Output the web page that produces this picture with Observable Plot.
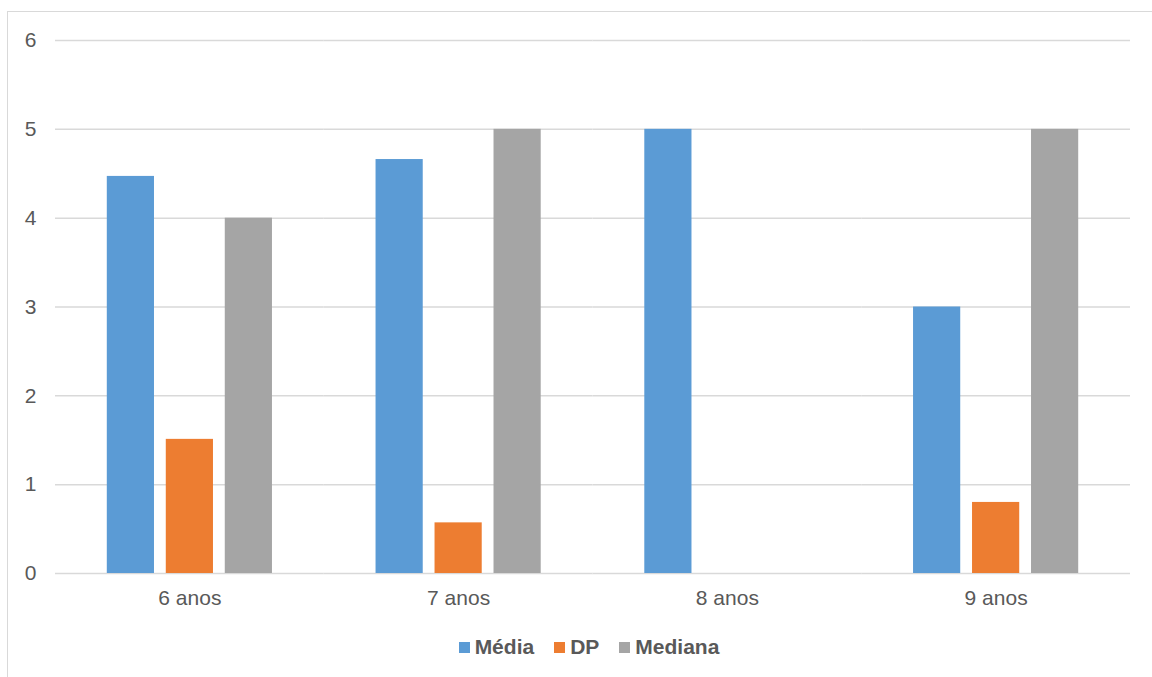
<!DOCTYPE html>
<html>
<head>
<meta charset="utf-8">
<script src="https://cdn.jsdelivr.net/npm/d3@7"></script>
<script src="https://cdn.jsdelivr.net/npm/@observablehq/plot@0.6"></script>
<style>
  html, body { margin: 0; padding: 0; background: #fff; width: 1152px; height: 677px; overflow: hidden; }
  body { position: relative; font-family: "Liberation Sans", Arial, sans-serif; }
  #frame { position: absolute; left: 7px; top: 11px; width: 1200px; height: 700px; border: 1.5px solid #d9d9d9; box-sizing: border-box; }
  #chart { position: absolute; left: 0; top: 0; }
  #legend { position: absolute; left: 2px; top: 635px; width: 1174px; display: flex; justify-content: center; gap: 20px;
            font-weight: bold; font-size: 21px; color: #595959; }
  #legend span.item { display: flex; align-items: center; }
  #legend span.sw { display: inline-block; width: 11px; height: 11px; margin-right: 5px; }
</style>
</head>
<body>
<div id="frame"></div>
<div id="chart"></div>
<div id="legend"></div>
<script>
const categories = ["6 anos", "7 anos", "8 anos", "9 anos"];
const series = ["Média", "DP", "Mediana"];
const media = [4.47, 4.66, 5, 3];
const dp = [1.51, 0.57, 0, 0.80];
const mediana = [4, 5, null, 5];
const colors = ["#5B9BD5", "#ED7D31", "#A5A5A5"];
const yTicks = [0, 1, 2, 3, 4, 5, 6];

const values = [media, dp, mediana];
const data = [];
categories.forEach((c, i) => {
  series.forEach((s, j) => {
    const v = values[j][i];
    if (v != null) data.push({category: c, series: s, value: v});
  });
});

const chart = Plot.plot({
  width: 1152,
  height: 620,
  marginLeft: 55,
  marginRight: 22,
  marginTop: 40,
  marginBottom: 47,
  style: {fontFamily: "'Liberation Sans', Arial, sans-serif", fontSize: "21px", color: "#595959", background: "transparent"},
  fx: {domain: categories, paddingInner: 0, paddingOuter: 0, round: false, label: null, axis: "bottom", tickSize: 0, tickPadding: 17},
  x: {domain: series, paddingInner: 0.2, paddingOuter: 0.878, round: false, axis: null},
  y: {domain: [0, 6], ticks: yTicks, label: null, axis: null},
  color: {domain: series, range: colors},
  marks: [
    Plot.ruleY(yTicks, {stroke: "#d9d9d9", strokeWidth: 1.5, strokeOpacity: 1}),
    Plot.barY(data, {fx: "category", x: "series", y: "value", fill: "series"}),
    Plot.axisY({ticks: yTicks, tickFormat: d => String(d), tickSize: 0, tickPadding: 19, fontSize: 21, fill: "#595959", label: null})
  ]
});
document.getElementById("chart").appendChild(chart);

const legend = document.getElementById("legend");
series.forEach((s, j) => {
  const item = document.createElement("span");
  item.className = "item";
  const sw = document.createElement("span");
  sw.className = "sw";
  sw.style.background = colors[j];
  item.appendChild(sw);
  item.appendChild(document.createTextNode(s));
  legend.appendChild(item);
});
</script>
</body>
</html>
